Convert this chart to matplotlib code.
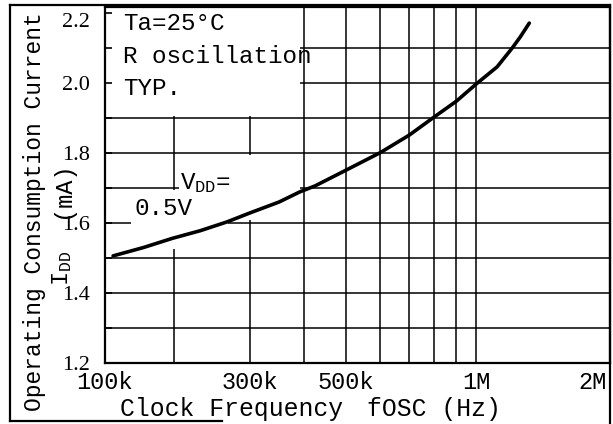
import matplotlib
matplotlib.use("Agg")
import matplotlib.pyplot as plt
from matplotlib.patches import Rectangle
from matplotlib.lines import Line2D

plt.rcParams['font.family'] = ['Liberation Mono', 'DejaVu Sans']
plt.rcParams['mathtext.fontset'] = 'custom'
plt.rcParams['mathtext.rm'] = 'Liberation Mono'

# curve (f in Hz, IDD in mA)
freq = [144.5e3, 170e3, 198e3, 230e3, 265e3, 300e3, 350e3, 391e3, 424e3,
        500e3, 600e3, 700e3, 800e3, 900e3, 1.0e6, 1.118e6, 1.212e6, 1.264e6, 1.327e6]
idd = [1.506, 1.530, 1.556, 1.578, 1.603, 1.629, 1.660, 1.689, 1.706,
       1.751, 1.801, 1.851, 1.903, 1.948, 1.997, 2.046, 2.100, 2.131, 2.171]

# the printed axis is squeezed: left edge is labelled 100k
x_lim = (138.4e3, 2.04e6)
y_lim = (1.2, 2.217)
xtick_pos = [138.4e3, 300e3, 500e3, 1e6, 2e6]
xtick_labels = ['100k', '300k', '500k', '1M', '2M']
ytick_pos = [1.2, 1.4, 1.6, 1.8, 2.0, 2.2]
ytick_labels = ['1.2', '1.4', '1.6', '1.8', '2.0', '2.2']
grid_f = [200e3, 300e3, 400e3, 500e3, 600e3, 700e3, 800e3, 900e3, 1e6]
grid_i = [1.3, 1.4, 1.5, 1.6, 1.7, 1.8, 1.9, 2.0, 2.1]

W, H = 613, 424
fig = plt.figure(figsize=(W / 100, H / 100), dpi=100)
L, R, T, B = 105, 610, 7, 363
ax = fig.add_axes([L / W, 1 - B / H, (R - L) / W, (B - T) / H])
ax.set_xscale('log')
ax.set_xlim(*x_lim)
ax.set_ylim(*y_lim)

for f in grid_f:
    ax.axvline(f, color='black', lw=1.1, zorder=1)
for v in grid_i:
    ax.axhline(v, color='black', lw=1.1, zorder=1)

# white patches where the labels sit on the grid
masks = [
    (x_lim[0], 1.905, 391e3, 2.3),
    (205e3, 1.609, 391e3, 1.794),
    (159e3, 1.526, 267e3, 1.694),
]
for x0, y0, x1, y1 in masks:
    ax.add_patch(Rectangle((x0, y0), x1 - x0, y1 - y0, facecolor='white',
                           edgecolor='none', zorder=1.5))

ax.plot(freq, idd, color='black', lw=2.6, zorder=3, solid_capstyle='round')

ax.set_axisbelow(False)
ax.minorticks_off()
ax.set_xticks(xtick_pos)
ax.set_xticklabels(xtick_labels, fontsize=17)
ax.set_yticks(ytick_pos)
ax.set_yticklabels(ytick_labels, fontsize=16, family='Liberation Serif')
ax.set_yticks(grid_i, minor=True)
ax.tick_params(axis='x', length=0, pad=6)
ax.tick_params(axis='y', which='both', direction='in', length=5, width=1.2, pad=11)
xl = ax.get_xticklabels()
xl[-1].set_horizontalalignment('right')
yl = ax.get_yticklabels()
yl[-1].set_verticalalignment('top')
yl[0].set_verticalalignment('center_baseline')
for s in ax.spines.values():
    s.set_linewidth(1.6)

fs = 17.5
ax.text(0.036, 0.955, 'Ta=25°C', transform=ax.transAxes, fontsize=fs, va='center')
ax.text(0.036, 0.860, 'R oscillation', transform=ax.transAxes, fontsize=fs, va='center')
ax.text(0.036, 0.772, 'TYP.', transform=ax.transAxes, fontsize=fs, va='center')
ax.text(0.149, 0.505, r'$\mathrm{V_{DD}}$=', transform=ax.transAxes, fontsize=fs,
        va='center', zorder=4)
ax.text(0.059, 0.435, '0.5V', transform=ax.transAxes, fontsize=fs, va='center', zorder=4)

fig.text(120 / W, 1 - 409 / H, 'Clock Frequency', fontsize=17.8,
         ha='left', va='center')
fig.text(367 / W, 1 - 409 / H, 'fOSC (Hz)', fontsize=17.8,
         ha='left', va='center')
fig.text(35 / W, 1 - 212 / H, 'Operating Consumption Current', fontsize=16.5,
         rotation=90, ha='center', va='center')
# second y-label line: the 1.6 tick label sits in its gap
fig.text(62 / W, 1 - 190 / H, '(mA)', fontsize=17,
         rotation=90, ha='center', va='center')
fig.text(62 / W, 1 - 268 / H, r'$\mathrm{I_{DD}}$', fontsize=17,
         rotation=90, ha='center', va='center')

# outer frame of the scanned figure
for xs, ys in [((10, 10), (5, 421)), ((10, 610), (5, 5)),
               ((610, 610), (5, 424)), ((10, 222), (421, 421))]:
    fig.add_artist(Line2D([x / W for x in xs], [1 - y / H for y in ys],
                          color='black', lw=1.6))

fig.savefig('out.png', dpi=100)
